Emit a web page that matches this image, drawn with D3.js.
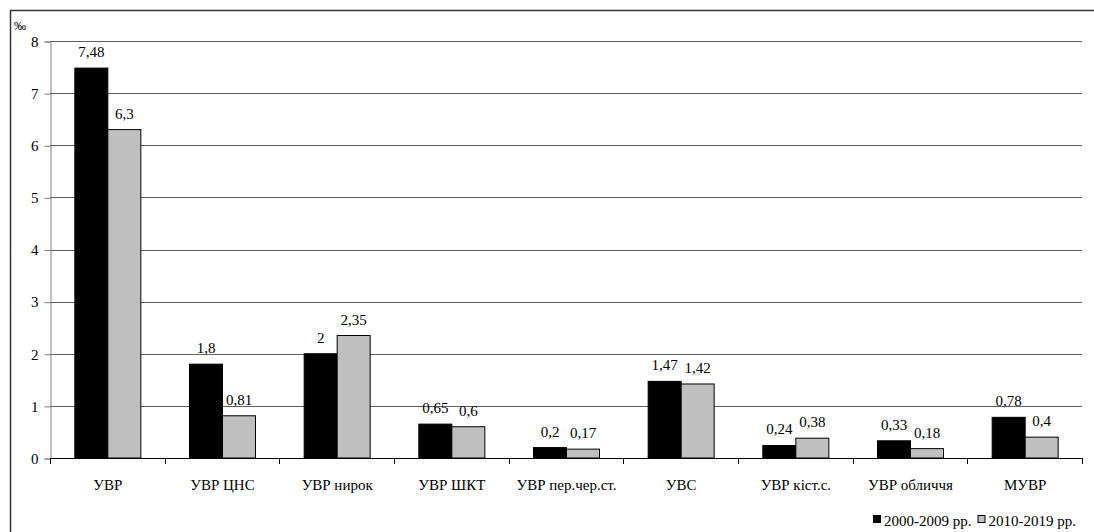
<!DOCTYPE html>
<html><head><meta charset="utf-8">
<script src="https://cdn.jsdelivr.net/npm/d3@7"></script>
<style>html,body{margin:0;padding:0;background:#fff;overflow:hidden;font-family:"Times New Roman","Liberation Serif",serif}svg{display:block}</style>
</head><body>
<script>
const categories = ["УВР","УВР ЦНС","УВР нирок","УВР ШКТ","УВР пер.чер.ст.","УВС","УВР кіст.с.","УВР обличчя","МУВР"];
const series1 = [7.48,1.8,2,0.65,0.2,1.47,0.24,0.33,0.78];
const series2 = [6.3,0.81,2.35,0.6,0.17,1.42,0.38,0.18,0.4];
const seriesNames = ["2000-2009 рр.","2010-2019 рр."];
const seriesColors = ["#000000","#c0c0c0"];
const yTicks = [0,1,2,3,4,5,6,7,8];
const unitLabel = "‰";

const W=1094,H=532;
const m={l:50,r:1082,t:41,b:458};
const F="Times New Roman";
const svg=d3.select("body").append("svg").attr("width",W).attr("height",H);

svg.append("rect").attr("x",10.5).attr("y",10.5).attr("width",1200).attr("height",600)
  .attr("fill","none").attr("stroke","#333").attr("stroke-width",1.5);

const x=d3.scaleBand().domain(categories).range([m.l,m.r]).padding(0);
const y=d3.scaleLinear().domain([0,8]).range([m.b,m.t]);

svg.append("g").selectAll("line").data(yTicks.filter(d=>d>0)).join("line")
  .attr("x1",m.l).attr("x2",m.r).attr("y1",d=>Math.round(y(d))+0.5).attr("y2",d=>Math.round(y(d))+0.5)
  .attr("stroke","#606060").attr("stroke-width",1);

const ya=svg.append("g").attr("transform",`translate(${m.l+0.5},0.5)`)
  .call(d3.axisLeft(y).tickValues(yTicks).tickSize(6).tickPadding(6).tickFormat(d3.format("d")));
ya.attr("font-family",null).attr("font-size",null);
ya.select(".domain").attr("stroke","#808080");
ya.selectAll(".tick line").attr("stroke","#808080");
ya.selectAll("text").attr("fill","#000");

const bw=33;
const data=categories.map((c,i)=>({c,v:[series1[i],series2[i]]}));
const g=svg.append("g");
data.forEach(d=>{
  const cx=x(d.c)+x.bandwidth()/2;
  d.v.forEach((v,j)=>{
    const bx=cx-bw+j*bw;
    g.append("rect").attr("x",bx+0.5).attr("y",y(v)).attr("width",bw).attr("height",y(0)-y(v))
      .attr("fill",seriesColors[j]).attr("stroke","#000").attr("stroke-width",1);
    g.append("text").attr("x",bx+bw/2+0.5).attr("y",y(v)-11).attr("text-anchor","middle")
      .text(String(v).replace(".",","));
  });
});

const xa=svg.append("g").attr("transform",`translate(0.5,${m.b+0.5})`)
  .call(d3.axisBottom(x).tickSize(0).tickPadding(21));
xa.attr("font-family",null).attr("font-size",null);
xa.select(".domain").attr("stroke","#000").attr("d",`M${m.l},0H${m.r}`);
xa.selectAll("text").attr("fill","#000");
const bounds=categories.map(c=>x(c)).concat([m.r]);
svg.append("g").selectAll("line").data(bounds).join("line")
  .attr("x1",d=>Math.round(d)+0.5).attr("x2",d=>Math.round(d)+0.5).attr("y1",m.b).attr("y2",m.b+6)
  .attr("stroke","#000");

svg.append("text").attr("class","unit").attr("x",14).attr("y",30).text(unitLabel);

const lg=svg.append("g");
seriesNames.forEach((n,i)=>{
  lg.append("rect").attr("class","lgbox").attr("y",515.5).attr("width",7).attr("height",7)
    .attr("fill",seriesColors[i]).attr("stroke","#000").attr("stroke-width",1);
  lg.append("text").attr("class","lgtext").attr("y",526).text(n);
});

svg.selectAll("text").attr("font-size",15).attr("font-family",F);
svg.select("text.unit").attr("font-size",12);

let lx=873;
const boxes=lg.selectAll("rect.lgbox").nodes(), texts=lg.selectAll("text.lgtext").nodes();
boxes.forEach((b,i)=>{
  d3.select(b).attr("x",lx+0.5);
  d3.select(texts[i]).attr("x",lx+11);
  lx+=11+texts[i].getComputedTextLength()+6;
});
</script>
</body></html>
